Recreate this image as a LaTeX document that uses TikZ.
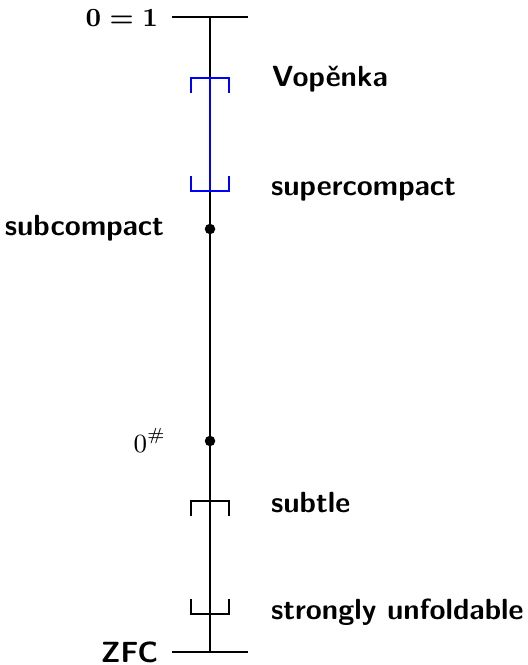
\documentclass[tikz,border=0pt]{standalone}
\begin{document}
\begin{tikzpicture}[x=0.343pt, y=-0.343pt,
                    every node/.style={font=\sffamily\bfseries, inner sep=0pt},
                    dot/.style={circle, fill, minimum size=3.6pt},
                    mathlbl/.style={font=\small},
                    mathbold/.style={font=\small\boldmath},
                    line width=0.7pt
                    ]

                    \useasboundingbox (0,0) rectangle (527,665);

                    % the spine
                    \coordinate (top) at (210,17);
                    \coordinate (bot) at (210,652);
                    \coordinate (topl) at (172,17);
                    \coordinate (topr) at (248,17);
                    \coordinate (botl) at (172,652);
                    \coordinate (botr) at (248,652);
                    \draw (top) -- (bot);
                    \draw (topl) -- (topr);
                    \draw (botl) -- (botr);

                    % brackets
                    \coordinate (vop) at (210,78);
                    \coordinate (scp) at (210,191);
                    \coordinate (stl) at (210,501);
                    \coordinate (unf) at (210,614);
                    \draw[blue, line width=0.9pt] (vop) -- (scp);
                    \draw[blue] (vop) ++(-19,15) -- ++(0,-15) -- ++(38,0) -- ++(0,15);
                    \draw[blue] (scp) ++(-19,-15) -- ++(0,15) -- ++(38,0) -- ++(0,-15);
                    \draw (stl) ++(-19,15) -- ++(0,-15) -- ++(38,0) -- ++(0,15);
                    \draw (unf) ++(-19,-15) -- ++(0,15) -- ++(38,0) -- ++(0,-15);

                    % points
                    \node[dot] (sbc) at (210,229) {};
                    \node[dot] (zsh) at (210,441) {};

                    % labels
                    \node[mathbold, anchor=base east] (inc) at (159,27) {$0=1$};
                    \node[anchor=base west] (vopl) at (271,87) {Vopěnka};
                    \node[anchor=base west] (scpl) at (270,196) {supercompact};
                    \node[anchor=base east] (sbcl) at (165,236) {subcompact};
                    \node[mathlbl, anchor=base east] (zshl) at (167,452) {$0^{\#}$};
                    \node[anchor=base west] (stll) at (270,512) {subtle};
                    \node[anchor=base west] (unfl) at (270,619) {strongly unfoldable};
                    \node[anchor=base east] (zfc) at (159,662) {ZFC};

                \end{tikzpicture}
\end{document}
